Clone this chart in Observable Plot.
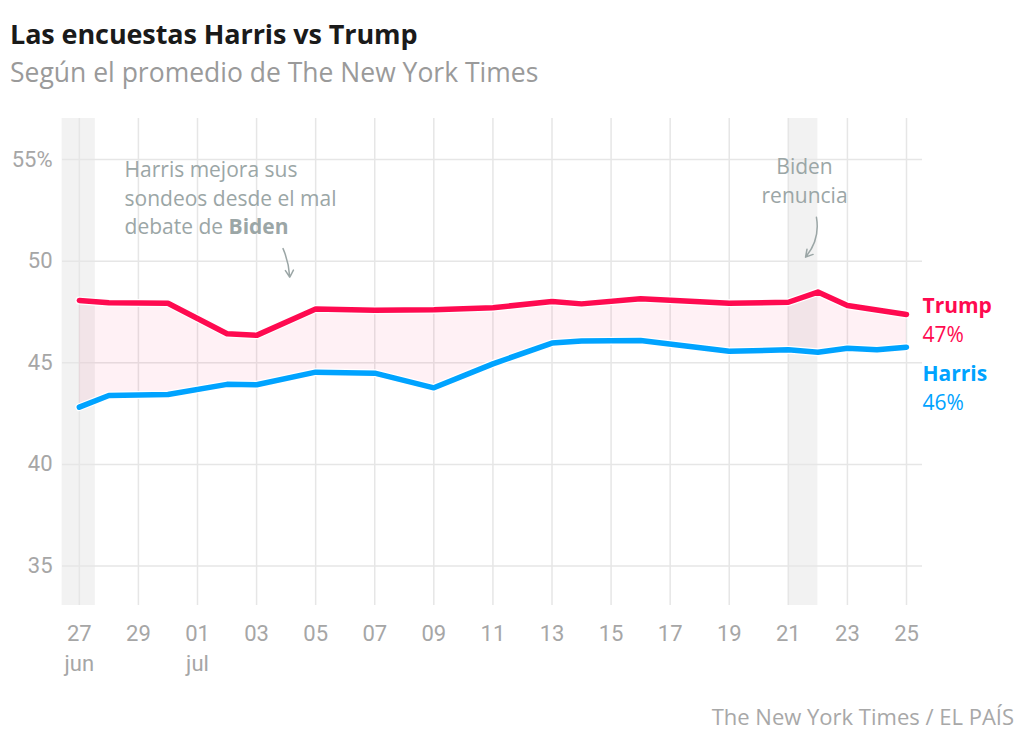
<!DOCTYPE html>
<html><head><meta charset="utf-8">
<script src="https://cdn.jsdelivr.net/npm/d3@7"></script>
<script src="https://cdn.jsdelivr.net/npm/@observablehq/plot@0.6"></script>
<style>
body{margin:0;background:#fff;font-family:"Open Sans",Roboto,sans-serif;width:1024px;height:742px;position:relative;overflow:hidden}
#title{position:absolute;left:10px;top:17px;font-size:27px;font-weight:700;color:#1a1a1a;letter-spacing:-0.1px;line-height:34px}
#subtitle{position:absolute;left:10px;top:55px;font-size:26.5px;color:#9a9a9a;line-height:34px}
#chart{position:absolute;left:0;top:100px}
#caption{position:absolute;right:10px;top:701px;font-size:22px;color:#a8a8a8;line-height:30px}
</style></head><body>
<div id="title">Las encuestas Harris vs Trump</div>
<div id="subtitle">Según el promedio de The New York Times</div>
<div id="chart"></div>
<div id="caption">The New York Times / EL PAÍS</div>
<script>
// ---- data ----
const dates = ["2024-06-27","2024-06-28","2024-06-30","2024-07-02","2024-07-03","2024-07-05","2024-07-07","2024-07-09","2024-07-11","2024-07-13","2024-07-14","2024-07-16","2024-07-19","2024-07-21","2024-07-22","2024-07-23","2024-07-24","2024-07-25"];
const trump  = [48.07,47.95,47.93,46.43,46.35,47.65,47.58,47.61,47.71,48.02,47.90,48.15,47.93,47.98,48.48,47.82,47.60,47.38];
const harris = [42.82,43.39,43.44,43.94,43.92,44.54,44.49,43.77,44.95,45.97,46.07,46.10,45.57,45.64,45.52,45.72,45.64,45.77];
const seriesNames = ["Trump","Harris"];
const seriesColors = ["#ff0a50","#00a3ff"];

const xTickDates = ["2024-06-27","2024-06-29","2024-07-01","2024-07-03","2024-07-05","2024-07-07","2024-07-09","2024-07-11","2024-07-13","2024-07-15","2024-07-17","2024-07-19","2024-07-21","2024-07-23","2024-07-25"];
const xTickLabels = ["27\njun","29","01\njul","03","05","07","09","11","13","15","17","19","21","23","25"];
const yTicks = [35,40,45,50,55];
const yTickLabels = ["35","40","45","50","55%"];

const bandStart = ["2024-06-26T10:00Z","2024-07-21T00:00Z"];
const bandEnd   = ["2024-06-27T13:00Z","2024-07-22T00:00Z"];

const noteTexts = ["Harris mejora sus\nsondeos desde el mal\ndebate de Biden","Biden\nrenuncia"];
const noteX = ["2024-06-28T12:45Z","2024-07-21T13:10Z"];
const noteY = [53.18,54.02];
const arrowX1 = ["2024-07-03T21:30Z","2024-07-21T22:50Z"];
const arrowY1 = [50.62,52.16];
const arrowX2 = ["2024-07-04T03:00Z","2024-07-21T14:00Z"];
const arrowY2 = [49.21,50.2];
const arrowBend = [10,25];

// ---- build ----
const rows = dates.map((d,i)=>({date:new Date(d), trump:trump[i], harris:harris[i]}));
const ticks = xTickDates.map(d=>new Date(d));
const bands = bandStart.map((s,i)=>({start:new Date(s), end:new Date(bandEnd[i])}));
const notes = noteTexts.map((t,i)=>({text:t, x:new Date(noteX[i]), y:noteY[i]}));
const arrows = arrowX1.map((x,i)=>({x1:new Date(x), y1:arrowY1[i], x2:new Date(arrowX2[i]), y2:arrowY2[i]}));
const last = rows[rows.length-1];
const endT = [{date:last.date, v:last.trump, label:seriesNames[0]+"\n"+Math.round(last.trump)+"%"}];
const endH = [{date:last.date, v:last.harris, label:seriesNames[1]+"\n"+Math.round(last.harris)+"%"}];

const grey = "#a6a6a6";
const noteColor = "#9ba6a6";
const tickFont = "Roboto, 'Noto Sans', sans-serif";
const textFont = "'Open Sans', Roboto, sans-serif";

const chart = Plot.plot({
  width:1024, height:590,
  marginLeft:62, marginRight:102, marginTop:18, marginBottom:85,
  x:{type:"utc", domain:[new Date("2024-06-26T10:20Z"), new Date("2024-07-25T13:00Z")]},
  y:{domain:[33.06,57.02]},
  style:{fontFamily:tickFont, background:"transparent", overflow:"visible"},
  marks:[
    Plot.rect(bands,{x1:"start", x2:"end", fill:"#f2f2f2"}),
    Plot.gridX(ticks,{stroke:"#e6e6e6", strokeOpacity:1, strokeWidth:1.5}),
    Plot.gridY(yTicks,{stroke:"#e6e6e6", strokeOpacity:1, strokeWidth:1.5}),
    Plot.areaY(rows,{x:"date", y1:"harris", y2:"trump", fill:seriesColors[0], fillOpacity:0.06}),
    Plot.line(rows,{x:"date", y:"trump", stroke:"white", strokeWidth:8, strokeLinecap:"round", strokeLinejoin:"round"}),
    Plot.line(rows,{x:"date", y:"harris", stroke:"white", strokeWidth:8, strokeLinecap:"round", strokeLinejoin:"round"}),
    Plot.line(rows,{x:"date", y:"trump", stroke:seriesColors[0], strokeWidth:5.5, strokeLinecap:"round", strokeLinejoin:"round"}),
    Plot.line(rows,{x:"date", y:"harris", stroke:seriesColors[1], strokeWidth:5.5, strokeLinecap:"round", strokeLinejoin:"round"}),
    Plot.axisY(yTicks,{tickSize:0, tickPadding:10, fontSize:22, fill:grey, tickFormat:d=>yTickLabels[yTicks.indexOf(d)]}),
    Plot.axisX(ticks,{tickSize:0, tickPadding:14, fontSize:22, fill:grey, lineHeight:1.36, tickFormat:d=>xTickLabels[ticks.findIndex(t=>+t===+d)]}),
    Plot.text(notes.slice(0,1),{x:"x", y:"y", text:"text", textAnchor:"start", fontSize:21, fontFamily:textFont, lineHeight:1.36, fill:noteColor}),
    Plot.text(notes.slice(1,2),{x:"x", y:"y", text:"text", textAnchor:"middle", fontSize:21, fontFamily:textFont, lineHeight:1.36, fill:noteColor}),
    Plot.arrow(arrows.slice(0,1),{x1:"x1", y1:"y1", x2:"x2", y2:"y2", bend:arrowBend[0], stroke:noteColor, strokeWidth:1.5, headLength:8, headAngle:60}),
    Plot.arrow(arrows.slice(1,2),{x1:"x1", y1:"y1", x2:"x2", y2:"y2", bend:arrowBend[1], stroke:noteColor, strokeWidth:1.5, headLength:8, headAngle:60}),
    Plot.text(endT,{x:"date", y:"v", text:"label", textAnchor:"start", dx:16, dy:3.5, fontSize:21, lineHeight:1.38, fontFamily:textFont, fill:seriesColors[0]}),
    Plot.text(endH,{x:"date", y:"v", text:"label", textAnchor:"start", dx:16, dy:39, fontSize:21, lineHeight:1.38, fontFamily:textFont, fill:seriesColors[1]})
  ]
});
document.getElementById("chart").appendChild(chart);
// bold "Biden" inside first note, bold series names
d3.select(chart).selectAll("tspan").each(function(){
  const t = this.textContent;
  if (t === "debate de Biden") {
    this.textContent = "debate de ";
    const b = document.createElementNS("http://www.w3.org/2000/svg","tspan");
    b.setAttribute("font-weight","bold");
    b.textContent = "Biden";
    this.appendChild(b);
  } else if (seriesNames.includes(t)) {
    this.setAttribute("font-weight","bold");
  }
});
</script>
</body></html>
